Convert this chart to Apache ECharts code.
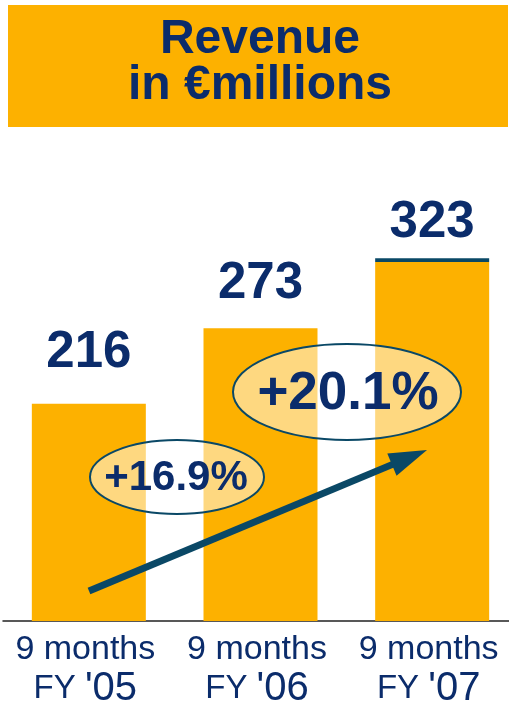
<!DOCTYPE html>
<html>
<head>
<meta charset="utf-8">
<script src="https://cdn.jsdelivr.net/npm/echarts@6/dist/echarts.min.js"></script>
<style>
html,body{margin:0;padding:0;background:#fff;overflow:hidden;width:509px;height:709px;}
#c{width:520px;height:709px;}
</style>
</head>
<body>
<div id="c"></div>
<script>
// ---- data ----
var categories = ['9 months|FY |\'05', '9 months|FY |\'06', '9 months|FY |\'07'];
var revenue = [216, 273, 323];
var growthLabels = ['+16.9%', '+20.1%'];
var titleLines = ['Revenue', 'in \u20acmillions'];

// ---- styles ----
var ORANGE = '#FDB100';
var NAVY = '#0B2C6B';
var TEAL = '#0A4866';
var FONT = '"Liberation Sans", Arial, sans-serif';
var labelDistances = [25, 19, 14];

var chart = echarts.init(document.getElementById('c'), null, {renderer: 'canvas'});

var option = {
  animation: false,
  backgroundColor: '#fff',
  grid: {left: 3, width: 515, top: 160, bottom: 85, containLabel: false},
  xAxis: {
    type: 'category',
    data: categories,
    axisLine: {show: true, lineStyle: {color: '#222', width: 1.5}},
    axisTick: {show: false},
    axisLabel: {
      margin: 10,
      interval: 0,
      padding: [0, 7, 0, 0],
      formatter: function (v) {
        var p = v.split('|');
        return '{a|' + p[0] + '}\n{b|' + p[1] + '}{c|' + p[2] + '}';
      },
      rich: {
        a: {fontFamily: FONT, fontSize: 34, color: NAVY, lineHeight: 38},
        b: {fontFamily: FONT, fontSize: 33, color: NAVY, lineHeight: 40},
        c: {fontFamily: FONT, fontSize: 40, color: NAVY, lineHeight: 40}
      }
    }
  },
  yAxis: {
    type: 'value', min: 52, max: 400, show: false, splitLine: {show: false}
  },
  series: [{
    type: 'bar',
    barWidth: 114,
    itemStyle: {color: ORANGE},
    data: revenue.map(function (v, i) {
      return {value: v, label: {distance: labelDistances[i]}};
    }),
    label: {
      show: true, position: 'top',
      fontFamily: FONT, fontWeight: 'bold', fontSize: 51, color: NAVY
    },
    z: 2
  }]
};
chart.setOption(option);

// decorations placed via the chart's scales
var p3 = chart.convertToPixel({gridIndex: 0}, [2, revenue[2]]);
var tipX = 427, tipY = 450, sx = 89, sy = 591;
var dx = tipX - sx, dy = tipY - sy, len = Math.sqrt(dx * dx + dy * dy);
var ux = dx / len, uy = dy / len, nx = -uy, ny = ux;
var L = 38, W = 12;
var bx = tipX - L * ux, by = tipY - L * uy;

chart.setOption({
  graphic: [
    {type: 'rect', shape: {x: 8, y: 5, width: 500, height: 122}, style: {fill: ORANGE}, z: 1},
    {type: 'text', x: 260, y: 40, style: {text: titleLines[0], fill: NAVY, font: 'bold 48px ' + FONT, textAlign: 'center', textVerticalAlign: 'middle'}, z: 2},
    {type: 'text', x: 260, y: 86, style: {text: titleLines[1], fill: NAVY, font: 'bold 48px ' + FONT, textAlign: 'center', textVerticalAlign: 'middle'}, z: 2},
    {type: 'rect', shape: {x: p3[0] - 57, y: p3[1] - 3.7, width: 114, height: 3.7}, style: {fill: TEAL}, z: 5},
    {type: 'line', shape: {x1: sx, y1: sy, x2: bx + ux * 2, y2: by + uy * 2}, style: {stroke: TEAL, lineWidth: 7, lineCap: 'butt'}, z: 5},
    {type: 'polygon', shape: {points: [[tipX, tipY], [bx + nx * W, by + ny * W], [bx - nx * W, by - ny * W]]}, style: {fill: TEAL}, z: 5},
    {type: 'ellipse', shape: {cx: 177, cy: 477, rx: 87, ry: 37}, style: {fill: 'rgba(255,255,255,0.5)', stroke: TEAL, lineWidth: 2}, z: 6},
    {type: 'text', x: 176, y: 478, style: {text: growthLabels[0], fill: NAVY, font: 'bold 42px ' + FONT, textAlign: 'center', textVerticalAlign: 'middle'}, z: 7},
    {type: 'ellipse', shape: {cx: 347, cy: 392, rx: 114, ry: 48}, style: {fill: 'rgba(255,255,255,0.5)', stroke: TEAL, lineWidth: 2}, z: 6},
    {type: 'text', x: 348, y: 394, style: {text: growthLabels[1], fill: NAVY, font: 'bold 53px ' + FONT, textAlign: 'center', textVerticalAlign: 'middle'}, z: 7}
  ]
});
</script>
</body>
</html>
